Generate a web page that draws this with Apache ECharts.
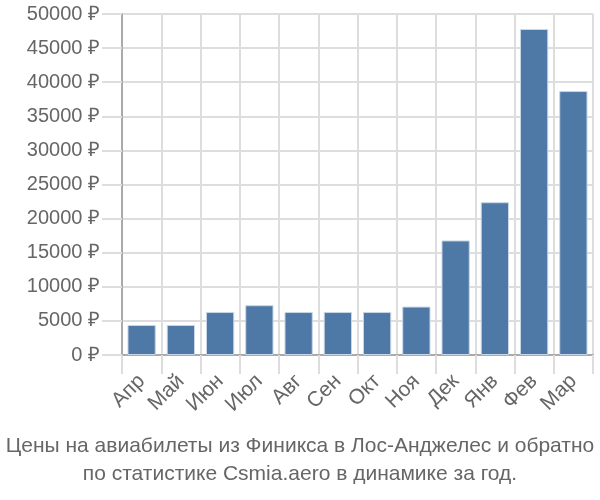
<!DOCTYPE html>
<html><head><meta charset="utf-8">
<script src="https://cdn.jsdelivr.net/npm/echarts@6/dist/echarts.min.js"></script>
<style>html,body{margin:0;padding:0;background:#fff}#c{width:600px;height:500px}</style>
</head><body><div id="c"></div>
<script>
var categories = ['Апр','Май','Июн','Июл','Авг','Сен','Окт','Ноя','Дек','Янв','Фев','Мар'];
var prices = [4400, 4400, 6300, 7300, 6300, 6300, 6300, 7100, 16800, 22400, 47800, 38700];
var titleLines = ['Цены на авиабилеты из Финикса в Лос-Анджелес и обратно', 'по статистике Csmia.aero в динамике за год.'];

var chart = echarts.init(document.getElementById('c'), null, {renderer:'canvas'});
chart.setOption({
  animation: false,
  title: {
    text: titleLines.join('\n'),
    left: 'center', bottom: 7,
    textStyle: {fontFamily: 'Liberation Sans Narrow, Liberation Sans, Arial', fontWeight: 'normal', fontSize: 21, color: '#666', lineHeight: 28}
  },
  grid: {left: 122, right: 7, top: 14, bottom: 145, containLabel: false},
  xAxis: {
    type: 'category', data: categories, boundaryGap: true,
    axisLine: {show: true, lineStyle: {color: '#aaa', width: 2}},
    axisTick: {show: true, length: 19, alignWithLabel: false, lineStyle: {color: '#ddd', width: 2}},
    splitLine: {show: true, lineStyle: {color: '#ddd', width: 2}},
    axisLabel: {rotate: 45, fontFamily: 'Liberation Sans, Arial', fontSize: 21, color: '#666', margin: 23, interval: 0}
  },
  yAxis: {
    type: 'value', min: 0, max: 50000, interval: 5000,
    axisLine: {show: true, lineStyle: {color: '#aaa', width: 2}},
    axisTick: {show: true, length: 20, lineStyle: {color: '#ddd', width: 2}},
    splitLine: {show: true, lineStyle: {color: '#ddd', width: 2}},
    axisLabel: {formatter: function (v) { return v + ' ₽'; }, fontFamily: 'Liberation Sans, Arial', fontSize: 20, color: '#666', margin: 22}
  },
  series: [{
    type: 'bar', data: prices, barWidth: '72%',
    itemStyle: {color: '#4e78a6', borderColor: '#c8d6e6', borderWidth: 1}
  }]
});
</script></body></html>
